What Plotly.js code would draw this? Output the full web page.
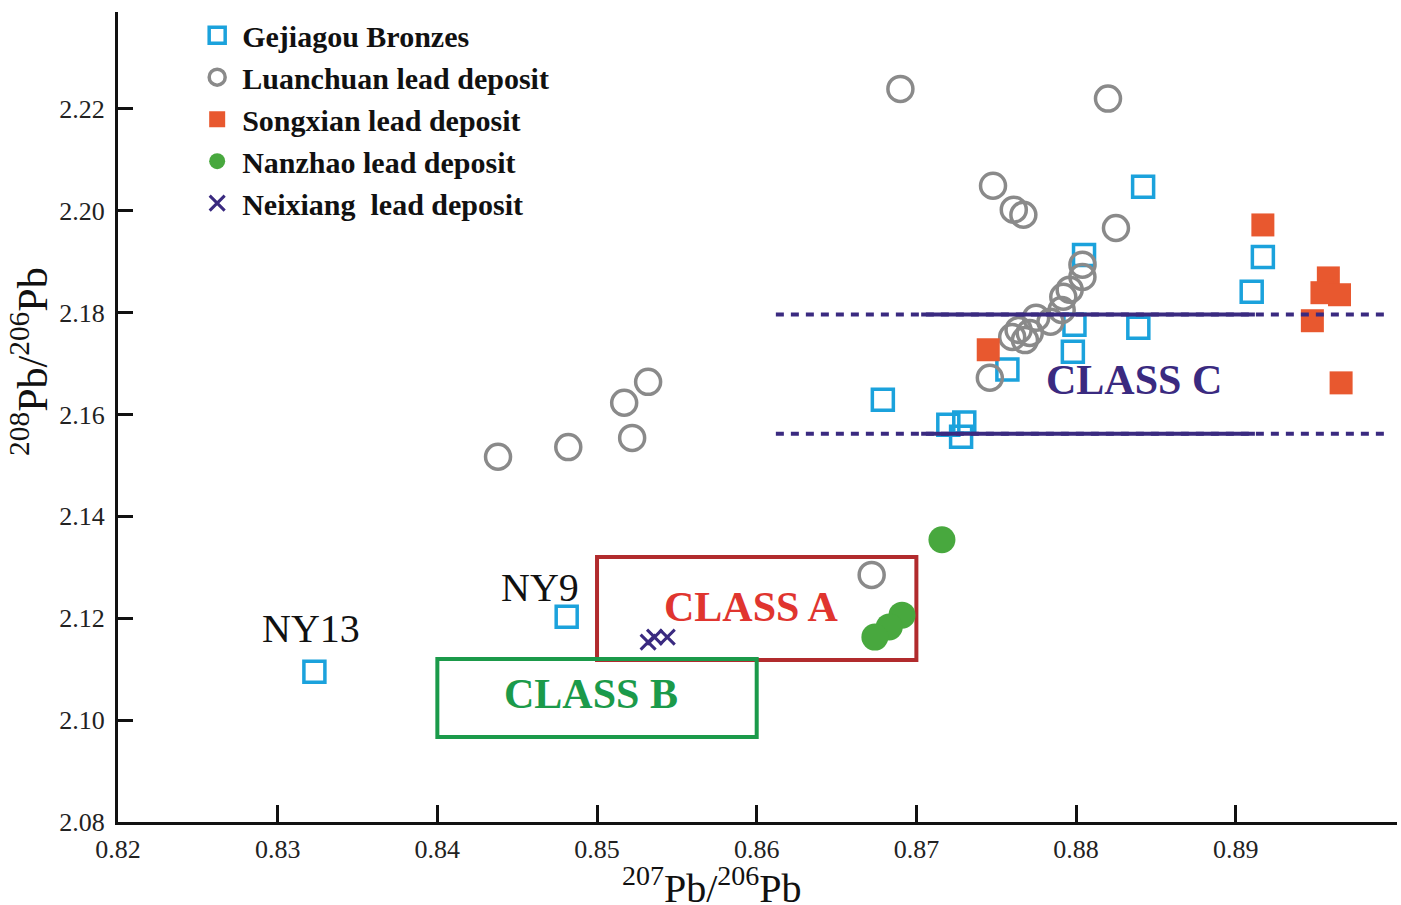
<!DOCTYPE html>
<html>
<head>
<meta charset="utf-8">
<script src="https://cdn.plot.ly/plotly-3.0.1.min.js"></script>
<style>html,body{margin:0;padding:0;background:#fff;}#chart{width:1401px;height:905px;}</style>
</head>
<body>
<div id="chart"></div>
<script>
// ---- Data ----
const gejiagouX = [0.8323, 0.8481, 0.8679, 0.8720, 0.8730, 0.8728, 0.8757, 0.8798, 0.8799, 0.8805, 0.8839, 0.8842, 0.8910, 0.8917];
const gejiagouY = [2.1095, 2.1203, 2.1629, 2.1580, 2.1584, 2.1556, 2.1688, 2.1723, 2.1776, 2.1913, 2.1770, 2.2047, 2.1841, 2.1909];

const luanchuanX = [0.8438, 0.8482, 0.8517, 0.8522, 0.8532, 0.8690, 0.8820, 0.8748, 0.8761, 0.8767, 0.8825, 0.8804, 0.8804, 0.8796, 0.8792, 0.8791, 0.8775, 0.8784, 0.8771, 0.8764, 0.8760, 0.8768, 0.8746, 0.8672];
const luanchuanY = [2.1517, 2.1536, 2.1623, 2.1554, 2.1664, 2.2239, 2.2220, 2.2049, 2.2002, 2.1992, 2.1966, 2.1894, 2.1870, 2.1845, 2.1831, 2.1805, 2.1790, 2.1782, 2.1760, 2.1766, 2.1752, 2.1746, 2.1672, 2.1285];

const songxianX = [0.8745, 0.8917, 0.8958, 0.8954, 0.8965, 0.8948, 0.8966];
const songxianY = [2.1727, 2.1972, 2.1868, 2.1839, 2.1835, 2.1784, 2.1662];

const nanzhaoX = [0.8716, 0.8691, 0.8683, 0.8674];
const nanzhaoY = [2.1354, 2.1206, 2.1183, 2.1163];

const neixiangX = [0.8532, 0.8536, 0.8544];
const neixiangY = [2.1153, 2.1163, 2.1163];

const seriesNames = ["Gejiagou Bronzes", "Luanchuan lead deposit", "Songxian lead deposit", "Nanzhao lead deposit", "Neixiang  lead deposit"];

// Class fields
const classAX = [0.850, 0.870];
const classAY = [2.1118, 2.1320];
const classBX = [0.840, 0.860];
const classBY = [2.0967, 2.1120];
const classCY = [2.1562, 2.1796];
const classCDottedX = [0.8612, 0.8993];
const classCSolidX = [0.8703, 0.8912];

// Labels
const labelTexts = ["CLASS A", "CLASS B", "CLASS C", "NY13", "NY9"];
const labelX = [0.8597, 0.8496, 0.8836, 0.8321, 0.8464];
const labelY = [2.1222, 2.1051, 2.1668, 2.1179, 2.1261];

// Axes
const xRange = [0.82, 0.9001];
const yRange = [2.08, 2.2390];
const xTickVals = [0.82, 0.83, 0.84, 0.85, 0.86, 0.87, 0.88, 0.89];
const xLongTickVals = [0.83, 0.85, 0.87, 0.89];
const yTickVals = [2.08, 2.10, 2.12, 2.14, 2.16, 2.18, 2.20, 2.22];
const yLongTickVals = [2.10, 2.14, 2.18, 2.22];

// ---- Styles ----
const serif = "Liberation Serif, Times New Roman, serif";
const cBlue = "#1ba2dc", cGray = "#8a8a8a", cOrange = "#e8582f", cGreen = "#48a83e", cPurple = "#3a2a80";
const cRed = "#e0352f", cDarkRed = "#b12b2d", cBoxGreen = "#1b9a4a";

const traces = [
  {x: gejiagouX, y: gejiagouY, name: seriesNames[0], type: "scatter", mode: "markers",
   marker: {symbol: "square-open", size: 21, color: cBlue, line: {color: cBlue, width: 3.5}}},
  {x: luanchuanX, y: luanchuanY, name: seriesNames[1], type: "scatter", mode: "markers",
   marker: {symbol: "circle-open", size: 25, color: cGray, line: {color: cGray, width: 3.5}}},
  {x: songxianX, y: songxianY, name: seriesNames[2], type: "scatter", mode: "markers",
   marker: {symbol: "square", size: 23, color: cOrange, line: {width: 0}}},
  {x: nanzhaoX, y: nanzhaoY, name: seriesNames[3], type: "scatter", mode: "markers",
   marker: {symbol: "circle", size: 27, color: cGreen, line: {width: 0}}},
  {x: neixiangX, y: neixiangY, name: seriesNames[4], type: "scatter", mode: "markers",
   marker: {symbol: "x-thin", size: 15, color: cPurple, line: {color: cPurple, width: 3}}}
];

const shapes = [
  {type: "rect", xref: "x", yref: "y", x0: classAX[0], x1: classAX[1], y0: classAY[0], y1: classAY[1],
   line: {color: cDarkRed, width: 4}, layer: "below"},
  {type: "rect", xref: "x", yref: "y", x0: classBX[0], x1: classBX[1], y0: classBY[0], y1: classBY[1],
   line: {color: cBoxGreen, width: 4}, layer: "below"}
];
classCY.forEach(function (yv) {
  shapes.push({type: "line", xref: "x", yref: "y", x0: classCDottedX[0], x1: classCDottedX[1], y0: yv, y1: yv,
    line: {color: cPurple, width: 4, dash: "8px,7px"}, layer: "above"});
  shapes.push({type: "line", xref: "x", yref: "y", x0: classCSolidX[0], x1: classCSolidX[1], y0: yv, y1: yv,
    line: {color: cPurple, width: 4}, layer: "above"});
});

const labelStyles = [
  {size: 42, color: cRed, bold: true},
  {size: 42, color: cBoxGreen, bold: true},
  {size: 42, color: cPurple, bold: true},
  {size: 40, color: "#111", bold: false},
  {size: 40, color: "#111", bold: false}
];
const annotations = labelTexts.map(function (t, i) {
  const s = labelStyles[i];
  return {x: labelX[i], y: labelY[i], xref: "x", yref: "y", text: s.bold ? "<b>" + t + "</b>" : t,
    showarrow: false, font: {family: serif, size: s.size, color: s.color}, xanchor: "center", yanchor: "middle"};
});
annotations.push({x: 0.4644, y: -0.1105, xref: "paper", yref: "paper", showarrow: false,
  text: "<sup>207</sup>Pb/<sup>206</sup>Pb", font: {family: serif, size: 40, color: "#111"}, xanchor: "center", yanchor: "bottom",
  borderpad: 0});
annotations.push({x: -0.0688, y: 0.568, xref: "paper", yref: "paper", showarrow: false, textangle: -90,
  text: "<sup>208</sup>Pb/<sup>206</sup>Pb", font: {family: serif, size: 42, color: "#111"}, xanchor: "center", yanchor: "middle"});

const axisCommon = {showgrid: false, zeroline: false, showline: true, linecolor: "#111", linewidth: 3,
  ticks: "inside", tickcolor: "#111", tickwidth: 3, tickfont: {family: serif, size: 26, color: "#222"}};

const layout = {
  width: 1401, height: 905,
  margin: {l: 118, r: 4, t: 12, b: 83},
  paper_bgcolor: "#fff", plot_bgcolor: "#fff",
  font: {family: serif},
  showlegend: true,
  legend: {x: 0.058, y: 1.0035, xanchor: "left", yanchor: "top", bgcolor: "rgba(0,0,0,0)",
    font: {family: serif, size: 30, color: "#111", weight: "bold"}, itemwidth: 40, tracegroupgap: 0},
  xaxis: Object.assign({}, axisCommon, {range: xRange, tickvals: xTickVals, ticktext: xTickVals.map(v => v.toFixed(2)),
    ticklen: 17, ticklabelstandoff: 2, mirror: false}),
  yaxis: Object.assign({}, axisCommon, {range: yRange, tickvals: yTickVals, ticktext: yTickVals.map(v => v.toFixed(2)),
    ticklen: 15, ticklabelstandoff: 5, mirror: false}),
  xaxis2: {overlaying: "x", matches: "x", anchor: "y", side: "bottom", range: xRange, showgrid: false, zeroline: false,
    showline: false, ticks: "inside", ticklen: 35, tickwidth: 3, tickcolor: "#111", tickvals: xLongTickVals, showticklabels: false},
  yaxis2: {overlaying: "y", matches: "y", anchor: "x", side: "left", range: yRange, showgrid: false, zeroline: false,
    showline: false, ticks: "inside", ticklen: 32, tickwidth: 3, tickcolor: "#111", tickvals: yLongTickVals, showticklabels: false},
  shapes: shapes,
  annotations: annotations
};

Plotly.newPlot("chart", traces, layout, {displayModeBar: false, staticPlot: true});
</script>
</body>
</html>
